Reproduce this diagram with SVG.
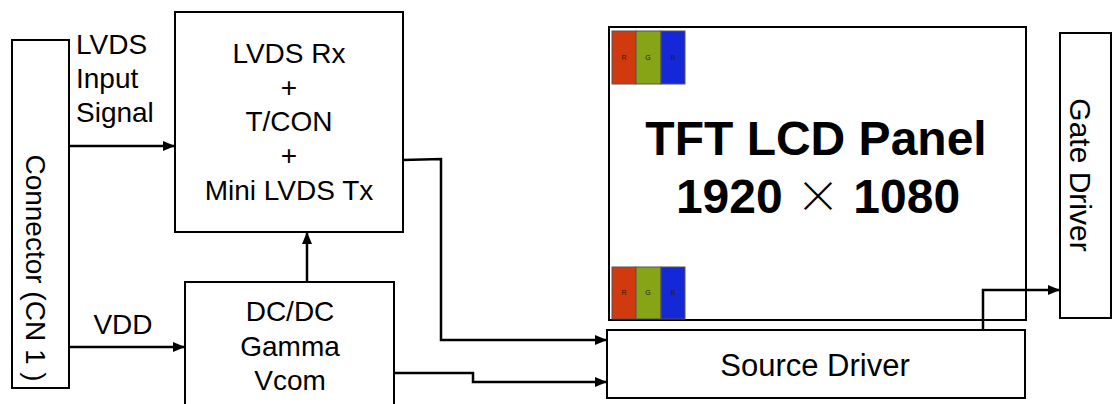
<svg xmlns="http://www.w3.org/2000/svg" width="1112" height="404" viewBox="0 0 1112 404">
<defs>
<style>
.box{fill:#fff;stroke:#000;stroke-width:2}
.t{font-family:"Liberation Sans",Arial,sans-serif;font-size:28px;fill:#000}
.c{text-anchor:middle}
.w{fill:none;stroke:#000;stroke-width:2.5}
.bar{stroke:#555;stroke-width:1}
.s{font-family:"Liberation Sans",Arial,sans-serif;font-size:7px;fill:#222;text-anchor:middle}
.big{font-family:"Liberation Sans",Arial,sans-serif;font-size:48px;font-weight:bold;text-anchor:middle}
</style>
<marker id="ah" viewBox="0 0 12 10" refX="12" refY="5" markerWidth="12" markerHeight="10" markerUnits="userSpaceOnUse" orient="auto">
<path d="M0,0 L12,5 L0,10 Z" fill="#000"/>
</marker>
</defs>
<rect width="1112" height="404" fill="#fff"/>
<g id="connector">
<rect class="box" x="12" y="40" width="57" height="348"/>
<text class="t c" transform="translate(26,268) rotate(90)">Connector (CN 1 )</text>
</g>
<g id="lvds-label">
<text class="t" x="76" y="54">LVDS</text>
<text class="t" x="76" y="88">Input</text>
<text class="t" x="76" y="122">Signal</text>
</g>
<g id="vdd-label">
<text class="t c" x="123" y="334">VDD</text>
</g>
<g id="tcon">
<rect class="box" x="175" y="12" width="228" height="220"/>
<text class="t c" x="289" y="63">LVDS Rx</text>
<text class="t c" x="289" y="97">+</text>
<text class="t c" x="289" y="131">T/CON</text>
<text class="t c" x="289" y="165">+</text>
<text class="t c" x="289" y="200">Mini LVDS Tx</text>
</g>
<g id="dcdc">
<rect class="box" x="185" y="282" width="209" height="130"/>
<text class="t c" x="290" y="321">DC/DC</text>
<text class="t c" x="290" y="356">Gamma</text>
<text class="t c" x="290" y="390">Vcom</text>
</g>
<g id="panel">
<rect class="box" x="609" y="27" width="417" height="293"/>
<rect class="bar" x="612" y="31" width="24" height="53" fill="#D13A0E"/>
<rect class="bar" x="636" y="31" width="25" height="53" fill="#86A416"/>
<rect class="bar" x="661" y="31" width="24" height="53" fill="#1428D8"/>
<text class="s" x="624" y="60">R</text>
<text class="s" x="648" y="60">G</text>
<text class="s" x="673" y="60">B</text>
<rect class="bar" x="612" y="267" width="24" height="52" fill="#D13A0E"/>
<rect class="bar" x="636" y="267" width="25" height="52" fill="#86A416"/>
<rect class="bar" x="661" y="267" width="24" height="52" fill="#1428D8"/>
<text class="s" x="624" y="295">R</text>
<text class="s" x="648" y="295">G</text>
<text class="s" x="673" y="295">B</text>
<text class="big" x="816" y="155">TFT LCD Panel</text>
<text class="big" x="818" y="213">1920 <tspan font-family="Noto Sans CJK SC,DejaVu Sans,sans-serif" font-weight="300" font-size="44">×</tspan> 1080</text>
</g>
<g id="source">
<rect class="box" x="607" y="330" width="418" height="68"/>
<text class="t c" x="815" y="376" style="font-size:31px">Source Driver</text>
</g>
<g id="gate">
<rect class="box" x="1060" y="33" width="51" height="285"/>
<text class="t c" transform="translate(1070,175) rotate(90)" style="font-size:30px">Gate Driver</text>
</g>
<g id="connectors">
<path class="w" d="M69,146 H175" marker-end="url(#ah)"/>
<path class="w" d="M69,347 H185" marker-end="url(#ah)"/>
<path class="w" d="M307,282 V232" marker-end="url(#ah)"/>
<path class="w" d="M403,160 L441,159 V340 H607" marker-end="url(#ah)"/>
<path class="w" d="M394,373 H473 V382 H607" marker-end="url(#ah)"/>
<path class="w" d="M983,330 V290 H1060" marker-end="url(#ah)"/>
</g>
</svg>
